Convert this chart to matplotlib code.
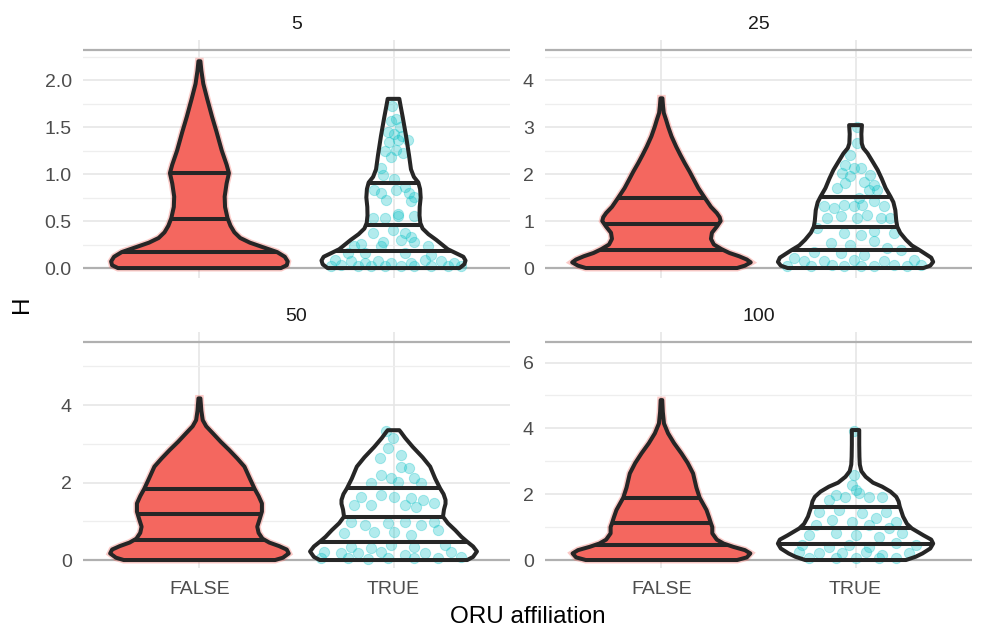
import numpy as np
import matplotlib
matplotlib.use('Agg')
import matplotlib.pyplot as plt
from matplotlib.patches import Polygon

plt.rcParams['font.family'] = ['Liberation Sans', 'DejaVu Sans']

panels = ['5', '25', '50', '100']
groups = ['FALSE', 'TRUE']

# violin outlines: H level and half width (x units)
false_5_h = [0.0, 0.03, 0.07, 0.12, 0.17, 0.22, 0.27, 0.32, 0.38, 0.45, 0.53, 0.65, 0.76, 0.90, 1.01, 1.10, 1.25, 1.45, 1.61, 1.80, 1.96, 2.10, 2.20]
false_5_w = [0.42, 0.45, 0.455, 0.44, 0.40, 0.33, 0.26, 0.21, 0.18, 0.16, 0.145, 0.132, 0.130, 0.14, 0.152, 0.14, 0.115, 0.088, 0.065, 0.04, 0.02, 0.01, 0.005]
true_5_h = [0.0, 0.04, 0.08, 0.12, 0.16, 0.20, 0.25, 0.30, 0.36, 0.42, 0.48, 0.56, 0.65, 0.75, 0.84, 0.91, 0.97, 1.05, 1.20, 1.40, 1.60, 1.72, 1.80]
true_5_w = [0.34, 0.365, 0.371, 0.36, 0.32, 0.28, 0.25, 0.22, 0.18, 0.15, 0.138, 0.134, 0.135, 0.14, 0.137, 0.128, 0.105, 0.09, 0.08, 0.065, 0.048, 0.037, 0.03]

false_25_h = [0.0, 0.05, 0.12, 0.18, 0.25, 0.32, 0.40, 0.50, 0.62, 0.75, 0.88, 1.00, 1.08, 1.17, 1.30, 1.50, 1.70, 1.87, 2.05, 2.23, 2.40, 2.58, 2.80, 3.00, 3.15, 3.30, 3.45, 3.61]
false_25_w = [0.39, 0.43, 0.46, 0.44, 0.40, 0.35, 0.31, 0.27, 0.255, 0.26, 0.285, 0.305, 0.30, 0.285, 0.255, 0.222, 0.19, 0.168, 0.145, 0.12, 0.098, 0.076, 0.052, 0.035, 0.024, 0.012, 0.008, 0.005]
true_25_h = [0.0, 0.05, 0.13, 0.22, 0.30, 0.38, 0.48, 0.60, 0.75, 0.88, 1.00, 1.23, 1.40, 1.52, 1.70, 1.90, 2.085, 2.25, 2.44, 2.55, 2.65, 2.85, 3.04]
true_25_w = [0.35, 0.385, 0.40, 0.39, 0.36, 0.33, 0.29, 0.26, 0.23, 0.215, 0.21, 0.205, 0.195, 0.18, 0.155, 0.135, 0.114, 0.09, 0.062, 0.04, 0.032, 0.03, 0.033]

false_50_h = [0.0, 0.06, 0.17, 0.27, 0.36, 0.45, 0.55, 0.70, 0.86, 1.05, 1.25, 1.46, 1.65, 1.83, 2.10, 2.41, 2.62, 2.84, 3.05, 3.27, 3.45, 3.61, 3.85, 4.17]
false_50_w = [0.39, 0.43, 0.46, 0.45, 0.41, 0.36, 0.325, 0.305, 0.298, 0.31, 0.322, 0.322, 0.305, 0.285, 0.26, 0.232, 0.195, 0.153, 0.11, 0.069, 0.035, 0.017, 0.01, 0.005]
true_50_h = [0.0, 0.08, 0.22, 0.35, 0.47, 0.60, 0.77, 0.95, 1.12, 1.30, 1.45, 1.55, 1.70, 1.85, 2.10, 2.41, 2.65, 2.92, 3.15, 3.30, 3.35]
true_50_w = [0.38, 0.41, 0.43, 0.41, 0.38, 0.35, 0.318, 0.28, 0.255, 0.26, 0.268, 0.268, 0.258, 0.24, 0.215, 0.189, 0.15, 0.099, 0.06, 0.038, 0.03]

false_100_h = [0.0, 0.08, 0.20, 0.30, 0.40, 0.50, 0.62, 0.81, 1.00, 1.115, 1.30, 1.52, 1.70, 1.89, 2.20, 2.63, 2.95, 3.24, 3.55, 3.85, 4.15, 4.50, 4.86]
false_100_w = [0.39, 0.44, 0.458, 0.43, 0.37, 0.32, 0.285, 0.262, 0.262, 0.255, 0.245, 0.232, 0.215, 0.197, 0.18, 0.163, 0.135, 0.103, 0.065, 0.034, 0.013, 0.007, 0.004]
true_100_h = [0.0, 0.10, 0.20, 0.35, 0.50, 0.62, 0.75, 0.96, 1.10, 1.32, 1.50, 1.62, 1.78, 1.92, 2.08, 2.23, 2.35, 2.53, 2.70, 2.90, 3.14, 3.50, 3.95]
true_100_w = [0.26, 0.31, 0.345, 0.385, 0.40, 0.39, 0.35, 0.29, 0.265, 0.245, 0.235, 0.228, 0.222, 0.21, 0.18, 0.137, 0.09, 0.052, 0.03, 0.022, 0.02, 0.019, 0.019]

# quartile lines
false_5_q = [0.17, 0.52, 1.01]
true_5_q = [0.18, 0.46, 0.91]
false_25_q = [0.38, 0.93, 1.50]
true_25_q = [0.38, 0.88, 1.52]
false_50_q = [0.52, 1.18, 1.83]
true_50_q = [0.47, 1.12, 1.85]
false_100_q = [0.456, 1.115, 1.89]
true_100_q = [0.49, 0.96, 1.62]

# TRUE group points: horizontal offset from the category and H
true_5_dx = [-0.009, 0.014, -0.015, 0.036, -0.029, 0.005, 0.043, -0.021, 0.022, 0.074, -0.046, 0.014, 0.048, -0.012, -0.064, -0.055,
             0.005, 0.057, -0.098, -0.064, 0.014, 0.082, 0.108, -0.038, 0.091, 0.022, 0.022, -0.107, -0.046, 0.108, -0.003, -0.107,
             0.057, 0.091, -0.055, 0.108, -0.167, 0.040, -0.201, 0.177, -0.064, -0.235, -0.149, 0.057, 0.194, -0.304, -0.218, -0.149,
             -0.081, -0.012, 0.091, 0.160, 0.246, 0.314, -0.321, -0.270, -0.184, -0.115, -0.046, 0.040, 0.108, 0.194, 0.280, 0.349]
true_5_y = [1.72, 1.59, 1.56, 1.50, 1.45, 1.43, 1.40, 1.34, 1.36, 1.36, 1.24, 1.26, 1.22, 1.18, 1.06, 0.99,
            0.95, 0.865, 0.83, 0.80, 0.83, 0.80, 0.76, 0.72, 0.71, 0.58, 0.55, 0.53, 0.53, 0.55, 0.40, 0.37,
            0.37, 0.33, 0.28, 0.28, 0.26, 0.30, 0.23, 0.23, 0.23, 0.16, 0.16, 0.16, 0.14, 0.085, 0.07, 0.05,
            0.07, 0.05, 0.05, 0.085, 0.07, 0.05, 0.02, 0.03, 0.02, 0.02, 0.02, 0.02, 0.02, 0.02, 0.02, 0.02]
true_25_dx = [0.005, 0.009, -0.026, -0.052, -0.009, 0.026, -0.069, -0.026, 0.077, 0.043, 0.095, 0.069, 0.112, -0.052, -0.095, 0.017,
              -0.163, -0.112, -0.060, -0.009, 0.034, 0.095, 0.146, -0.146, -0.077, 0.009, 0.060, 0.129, 0.180, -0.198, -0.060, 0.026,
              0.095, 0.198, -0.129, -0.026, 0.095, 0.163, -0.215, -0.077, 0.043, 0.232, -0.318, -0.266, -0.163, -0.009, 0.146, 0.301,
              -0.352, -0.232, -0.120, -0.060, 0.026, 0.095, 0.198, 0.266, 0.335]
true_25_y = [3.0, 2.66, 2.41, 2.20, 2.13, 2.13, 2.02, 1.95, 1.98, 1.84, 1.77, 1.67, 1.67, 1.81, 1.70, 1.49,
             1.31, 1.28, 1.35, 1.31, 1.35, 1.42, 1.31, 1.06, 1.10, 1.06, 1.13, 1.06, 1.06, 0.85, 0.74, 0.71,
             0.78, 0.74, 0.53, 0.50, 0.57, 0.43, 0.35, 0.32, 0.28, 0.39, 0.21, 0.14, 0.14, 0.18, 0.14, 0.18,
             0.04, 0.04, 0.07, 0.04, 0.04, 0.04, 0.07, 0.04, 0.07]
true_50_dx = [-0.038, -0.003, 0.040, -0.029, -0.072, 0.040, 0.082, -0.064, -0.012, 0.108, -0.115, 0.022, 0.143, -0.167, -0.064, 0.005,
              0.091, 0.151, -0.201, -0.115, 0.057, 0.117, 0.211, -0.218, -0.149, -0.029, 0.057, 0.143, 0.211, -0.253, -0.098, 0.005,
              0.091, 0.229, -0.218, -0.115, -0.012, 0.108, 0.263, -0.356, -0.270, -0.184, -0.064, 0.057, 0.160, 0.297, -0.373, -0.235,
              -0.132, -0.029, 0.108, 0.229, 0.349]
true_50_y = [3.32, 3.14, 2.71, 2.88, 2.62, 2.41, 2.37, 2.19, 2.11, 2.11, 1.98, 2.02, 1.98, 1.63, 1.68, 1.63,
             1.59, 1.55, 1.42, 1.42, 1.42, 1.38, 1.46, 0.99, 0.90, 0.95, 0.99, 0.90, 0.99, 0.69, 0.73, 0.73,
             0.65, 0.77, 0.34, 0.30, 0.39, 0.34, 0.39, 0.21, 0.17, 0.17, 0.21, 0.13, 0.17, 0.21, 0.04, 0.04,
             0.02, 0.04, 0.04, 0.04, 0.08]
true_100_dx = [-0.009, -0.009, -0.017, 0.0, -0.103, -0.052, 0.017, 0.069, -0.137, 0.137, -0.189, -0.086, 0.034, 0.155, -0.120, -0.017,
               0.103, 0.206, -0.206, 0.069, 0.172, -0.241, -0.103, 0.0, 0.120, 0.241, -0.275, -0.137, -0.034, 0.069, 0.206, 0.309,
               -0.292, -0.189, -0.069, 0.052, 0.137, 0.275, -0.241, -0.103, 0.0, 0.120, 0.206]
true_100_y = [3.92, 2.58, 2.28, 2.13, 1.98, 1.93, 2.03, 1.93, 1.82, 1.93, 1.47, 1.52, 1.42, 1.47, 1.22, 1.16,
              1.27, 1.16, 1.06, 1.06, 0.96, 0.76, 0.81, 0.76, 0.71, 0.81, 0.46, 0.41, 0.46, 0.41, 0.51, 0.46,
              0.25, 0.20, 0.20, 0.25, 0.15, 0.20, 0.05, 0.05, 0.05, 0.05, 0.05]

# axis set-up per panel
y_limits = [(-0.106, 2.426), (-0.213, 4.851), (-0.206, 5.892), (-0.243, 6.939)]
y_major = [[0, 0.5, 1.0, 1.5, 2.0], [0, 1, 2, 3, 4], [0, 2, 4], [0, 2, 4, 6]]
y_minor = [[0.25, 0.75, 1.25, 1.75, 2.25], [0.5, 1.5, 2.5, 3.5, 4.5], [1, 3, 5], [1, 3, 5]]
y_labels = [['0.0', '0.5', '1.0', '1.5', '2.0'], ['0', '1', '2', '3', '4'], ['0', '2', '4'], ['0', '2', '4', '6']]
top_rule = [2.32, 4.64, 5.63, 6.64]

red = '#F4675F'
teal = '#00BFC4'
ink = '#262626'

violins = [
    [(false_5_h, false_5_w, false_5_q), (true_5_h, true_5_w, true_5_q)],
    [(false_25_h, false_25_w, false_25_q), (true_25_h, true_25_w, true_25_q)],
    [(false_50_h, false_50_w, false_50_q), (true_50_h, true_50_w, true_50_q)],
    [(false_100_h, false_100_w, false_100_q), (true_100_h, true_100_w, true_100_q)],
]
points = [(true_5_dx, true_5_y), (true_25_dx, true_25_y), (true_50_dx, true_50_y), (true_100_dx, true_100_y)]


def draw_violin(ax, pos, h, w, q, filled):
    h = np.asarray(h)
    w = np.asarray(w)
    xy = np.column_stack([np.concatenate([pos - w, (pos + w)[::-1]]),
                          np.concatenate([h, h[::-1]])])
    if filled:
        ax.add_patch(Polygon(xy, closed=True, facecolor=red, edgecolor=red,
                             lw=5, alpha=0.35, zorder=2))
        ax.add_patch(Polygon(xy, closed=True, facecolor=red, edgecolor=red,
                             lw=1.5, zorder=2))
    ax.add_patch(Polygon(xy, closed=True, fill=False, edgecolor=ink, lw=2.9,
                         joinstyle='round', zorder=4))
    for qq in q:
        ww = np.interp(qq, h, w)
        ax.plot([pos - ww, pos + ww], [qq, qq], color=ink, lw=2.9,
                solid_capstyle='butt', zorder=4)


fig = plt.figure(figsize=(9.82, 6.3), dpi=100)
lefts = [0.0845, 0.555, 0.0845, 0.555]
bottoms = [0.5587, 0.5587, 0.0984, 0.0984]
heights = [0.3778, 0.3778, 0.3751, 0.3751]

for i, name in enumerate(panels):
    ax = fig.add_axes([lefts[i], bottoms[i], 0.4348, heights[i]])
    ax.set_xlim(0.4, 2.6)
    ax.set_ylim(*y_limits[i])
    ax.set_yticks(y_major[i])
    ax.set_yticklabels(y_labels[i])
    ax.set_yticks(y_minor[i], minor=True)
    ax.set_xticks([1, 2])
    if i >= 2:
        ax.set_xticklabels(groups)
    else:
        ax.set_xticklabels([])
    ax.grid(which='major', color='#E6E6E6', lw=1.2, zorder=0)
    ax.grid(which='minor', axis='y', color='#EEEEEE', lw=0.9, zorder=0)
    ax.axhline(0, color='#B0B0B0', lw=1.6, zorder=1)
    ax.axhline(top_rule[i], color='#B0B0B0', lw=1.6, zorder=1)
    for s in ax.spines.values():
        s.set_visible(False)
    ax.tick_params(which='both', length=0, labelsize=14, colors='#4D4D4D')
    ax.tick_params(axis='y', pad=8)
    ax.tick_params(axis='x', pad=9)
    ax.set_title(name, fontsize=14, color='#1A1A1A', pad=8)
    ax.set_axisbelow(True)

    px, py = points[i]
    ax.scatter(2 + np.asarray(px), py, s=55, color=teal, alpha=0.3,
               edgecolors=teal, linewidths=0.7, zorder=3)
    for j, (h, w, q) in enumerate(violins[i]):
        draw_violin(ax, j + 1, h, w, q, filled=(j == 0))

fig.text(0.537, 0.021, 'ORU affiliation', ha='center', va='center', fontsize=17.5)
fig.text(0.022, 0.517, 'H', ha='center', va='center', rotation=90, fontsize=17.5)

fig.savefig('out.png', dpi=100)
